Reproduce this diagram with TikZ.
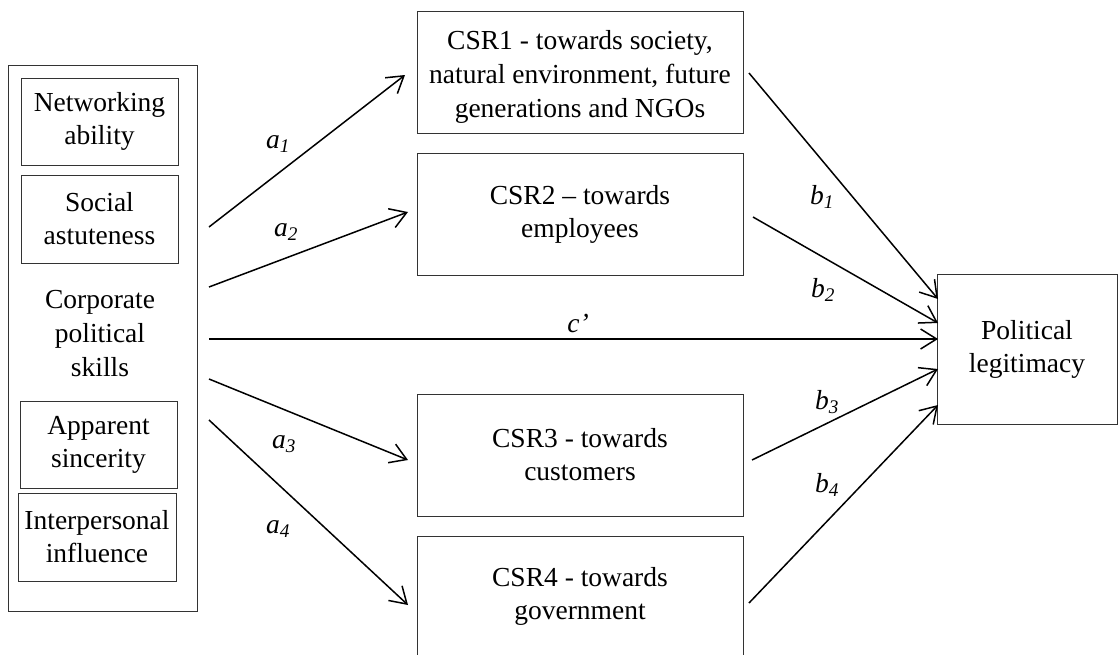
\documentclass[tikz,border=0pt]{standalone}
\usepackage{fontspec}
\setmainfont{Liberation Serif}
\usetikzlibrary{arrows.meta}

\begin{document}
\begin{tikzpicture}[x=1pt,y=-1pt,
  box/.style={draw=black!80, line width=1pt, inner sep=0pt, align=center,
    font=\fontsize{27.5}{33}\selectfont},
  plain/.style={inner sep=0pt, align=center, font=\fontsize{27.5}{33}\selectfont},
  path/.style={line width=1.5pt, -{Straight Barb[length=16pt,width=20pt,line width=1.5pt]}},
  coef/.style={inner sep=0pt, font=\fontsize{27.5}{33}\selectfont\itshape}
]
\useasboundingbox (0,0) rectangle (1119,654);
\clip (0,0) rectangle (1119,654);

% predictor: corporate political skills and its four dimensions
\node[box, minimum width=189, minimum height=546] (cps) at (102.5,338) {};
\node[box, minimum width=157, minimum height=87] (net) at (99.5,121.5) {Networking\\ability};
\node[box, minimum width=157, minimum height=88] (soc) at (99.5,219) {Social\\astuteness};
\node[plain, font=\fontsize{27.5}{34}\selectfont] (skills) at (100,334) {Corporate\\political\\skills};
\node[box, minimum width=157, minimum height=87] (app) at (98.5,444.5) {Apparent\\sincerity};
\node[box, minimum width=158, minimum height=88] (inf) at (97,537) {Interpersonal\\influence};

% mediators
\node[box, minimum width=326, minimum height=122] (csr1) at (580,72) {};
\node[plain, font=\fontsize{27.5}{34}\selectfont] (csr1t) at (580,77)
  {CSR1 - towards society,\\natural environment, future\\generations and NGOs};
\node[box, minimum width=326, minimum height=122] (csr2) at (580,214) {CSR2 – towards\\employees};
\node[box, minimum width=326, minimum height=122] (csr3) at (580,455) {CSR3 - towards\\customers};
\node[box, minimum width=326, minimum height=120] (csr4) at (580,596) {CSR4 - towards\\government};

% outcome
\node[box, minimum width=180, minimum height=150] (pl) at (1027,349) {Political\\legitimacy};

% path end points
\coordinate (a1s) at (209,227);  \coordinate (a1e) at (405,75);
\coordinate (a2s) at (209,287);  \coordinate (a2e) at (408,212);
\coordinate (cs)  at (209,339);  \coordinate (ce)  at (938,339);
\coordinate (a3s) at (209,379);  \coordinate (a3e) at (408,460);
\coordinate (a4s) at (209,420);  \coordinate (a4e) at (408,605);
\coordinate (b1s) at (749,73);   \coordinate (b1e) at (938,299);
\coordinate (b2s) at (753,217);  \coordinate (b2e) at (938,323);
\coordinate (b3s) at (752,460);  \coordinate (b3e) at (938,369);
\coordinate (b4s) at (749,603);  \coordinate (b4e) at (938,405);

\draw[path] (a1s) -- (a1e);
\draw[path] (a2s) -- (a2e);
\draw[path] (cs) -- (ce);
\draw[path] (a3s) -- (a3e);
\draw[path] (a4s) -- (a4e);
\draw[path] (b1s) -- (b1e);
\draw[path] (b2s) -- (b2e);
\draw[path] (b3s) -- (b3e);
\draw[path] (b4s) -- (b4e);

% path coefficients
\node[coef] (la1) at (278,144) {a\textsubscript{\itshape 1}};
\node[coef] (la2) at (286,232) {a\textsubscript{\itshape 2}};
\node[coef] (la3) at (284,444) {a\textsubscript{\itshape 3}};
\node[coef] (la4) at (278,529) {a\textsubscript{\itshape 4}};
\node[coef] (lb1) at (822,197) {b\textsubscript{\itshape 1}};
\node[coef] (lb2) at (823,290) {b\textsubscript{\itshape 2}};
\node[coef] (lb3) at (827,402) {b\textsubscript{\itshape 3}};
\node[coef] (lb4) at (827,485) {b\textsubscript{\itshape 4}};
\node[coef] (lc)  at (578,323) {c’};
\end{tikzpicture}
\end{document}
